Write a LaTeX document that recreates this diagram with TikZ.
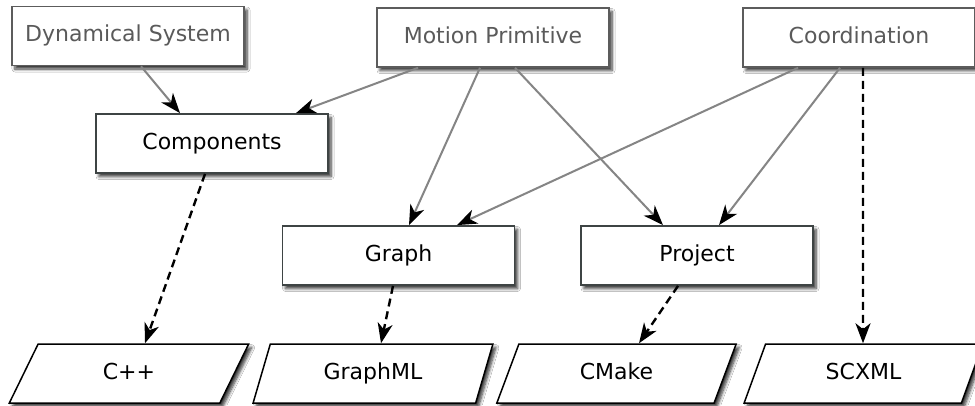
\documentclass[tikz,border=0pt]{standalone}
\usepackage{fontspec}
\setmainfont{DejaVu Sans}
\usetikzlibrary{arrows.meta,shapes.geometric,shadows.blur}
\definecolor{topborder}{HTML}{5C5C5C}
\definecolor{toptext}{HTML}{5A5A5A}
\definecolor{midborder}{HTML}{3E4444}
\definecolor{linegray}{HTML}{858585}
\begin{document}
\begin{tikzpicture}[x=1pt,y=-1pt,
  font=\fontsize{22}{26}\selectfont,
  boxshadow/.style={blur shadow={shadow xshift=3pt,shadow yshift=-3.5pt,shadow blur steps=6,shadow blur radius=3pt,shadow opacity=80}},
  topbox/.style={draw=topborder,line width=1.6pt,fill=white,text=toptext,
    minimum width=232pt,minimum height=59pt,inner sep=0pt,
    text height=16pt,text depth=4.5pt,boxshadow},
  midbox/.style={draw=midborder,line width=1.8pt,fill=white,text=black,
    minimum width=232pt,minimum height=59pt,inner sep=0pt,
    text height=16pt,text depth=4.5pt,boxshadow},
  outbox/.style={trapezium,trapezium left angle=68,trapezium right angle=112,
    trapezium stretches=true,draw=black,line width=1.5pt,fill=white,
    minimum width=240pt,minimum height=59pt,inner sep=0pt,
    text height=16pt,text depth=4.5pt,boxshadow},
  solidarrow/.style={draw=linegray,line width=2pt,
    -{Stealth[black,length=20pt,width=15pt,inset=6pt]}},
  dasharrow/.style={draw=black,line width=2.4pt,dash pattern=on 8pt off 5pt,
    -{Stealth[black,length=20pt,width=15pt,inset=6pt]}}
]
\useasboundingbox (0,0) rectangle (975,405);
\fill[white] (0,0) rectangle (975,405);

\node[topbox] (ds) at (128,36) {Dynamical System};
\node[topbox] (mp) at (493,37.5) {Motion Primitive};
\node[topbox] (co) at (859,37.5) {Coordination};

\node[midbox] (comp) at (212,143.5) {Components};
\node[midbox] (graph) at (398.5,255.5) {Graph};
\node[midbox] (proj) at (697,255.5) {Project};

\node[outbox] (cpp) at (129,373.5) {C++};
\node[outbox] (gml) at (373,373.5) {GraphML};
\node[outbox] (cmake) at (616.5,373.5) {CMake};
\node[outbox] (scxml) at (863.5,373.5) {SCXML};

\draw[solidarrow] ([xshift=13pt]ds.south) -- ([xshift=-32pt]comp.north);
\draw[solidarrow] ([xshift=-75pt]mp.south) -- ([xshift=84pt]comp.north);
\draw[solidarrow] ([xshift=-13pt]mp.south) -- ([xshift=10.5pt]graph.north);
\draw[solidarrow] ([xshift=22pt]mp.south) -- ([xshift=-34pt]proj.north);
\draw[solidarrow] ([xshift=-61pt]co.south) -- ([xshift=58.5pt]graph.north);
\draw[solidarrow] ([xshift=-19pt]co.south) -- ([xshift=22pt]proj.north);

\draw[dasharrow] ([xshift=4pt]co.south) -- ([xshift=-0.5pt]scxml.north);
\draw[dasharrow] ([xshift=-7pt]comp.south) -- ([xshift=16pt]cpp.north);
\draw[dasharrow] ([xshift=-5.5pt]graph.south) -- ([xshift=8pt]gml.north);
\draw[dasharrow] ([xshift=-19pt]proj.south) -- ([xshift=22.5pt]cmake.north);
\end{tikzpicture}
\end{document}
